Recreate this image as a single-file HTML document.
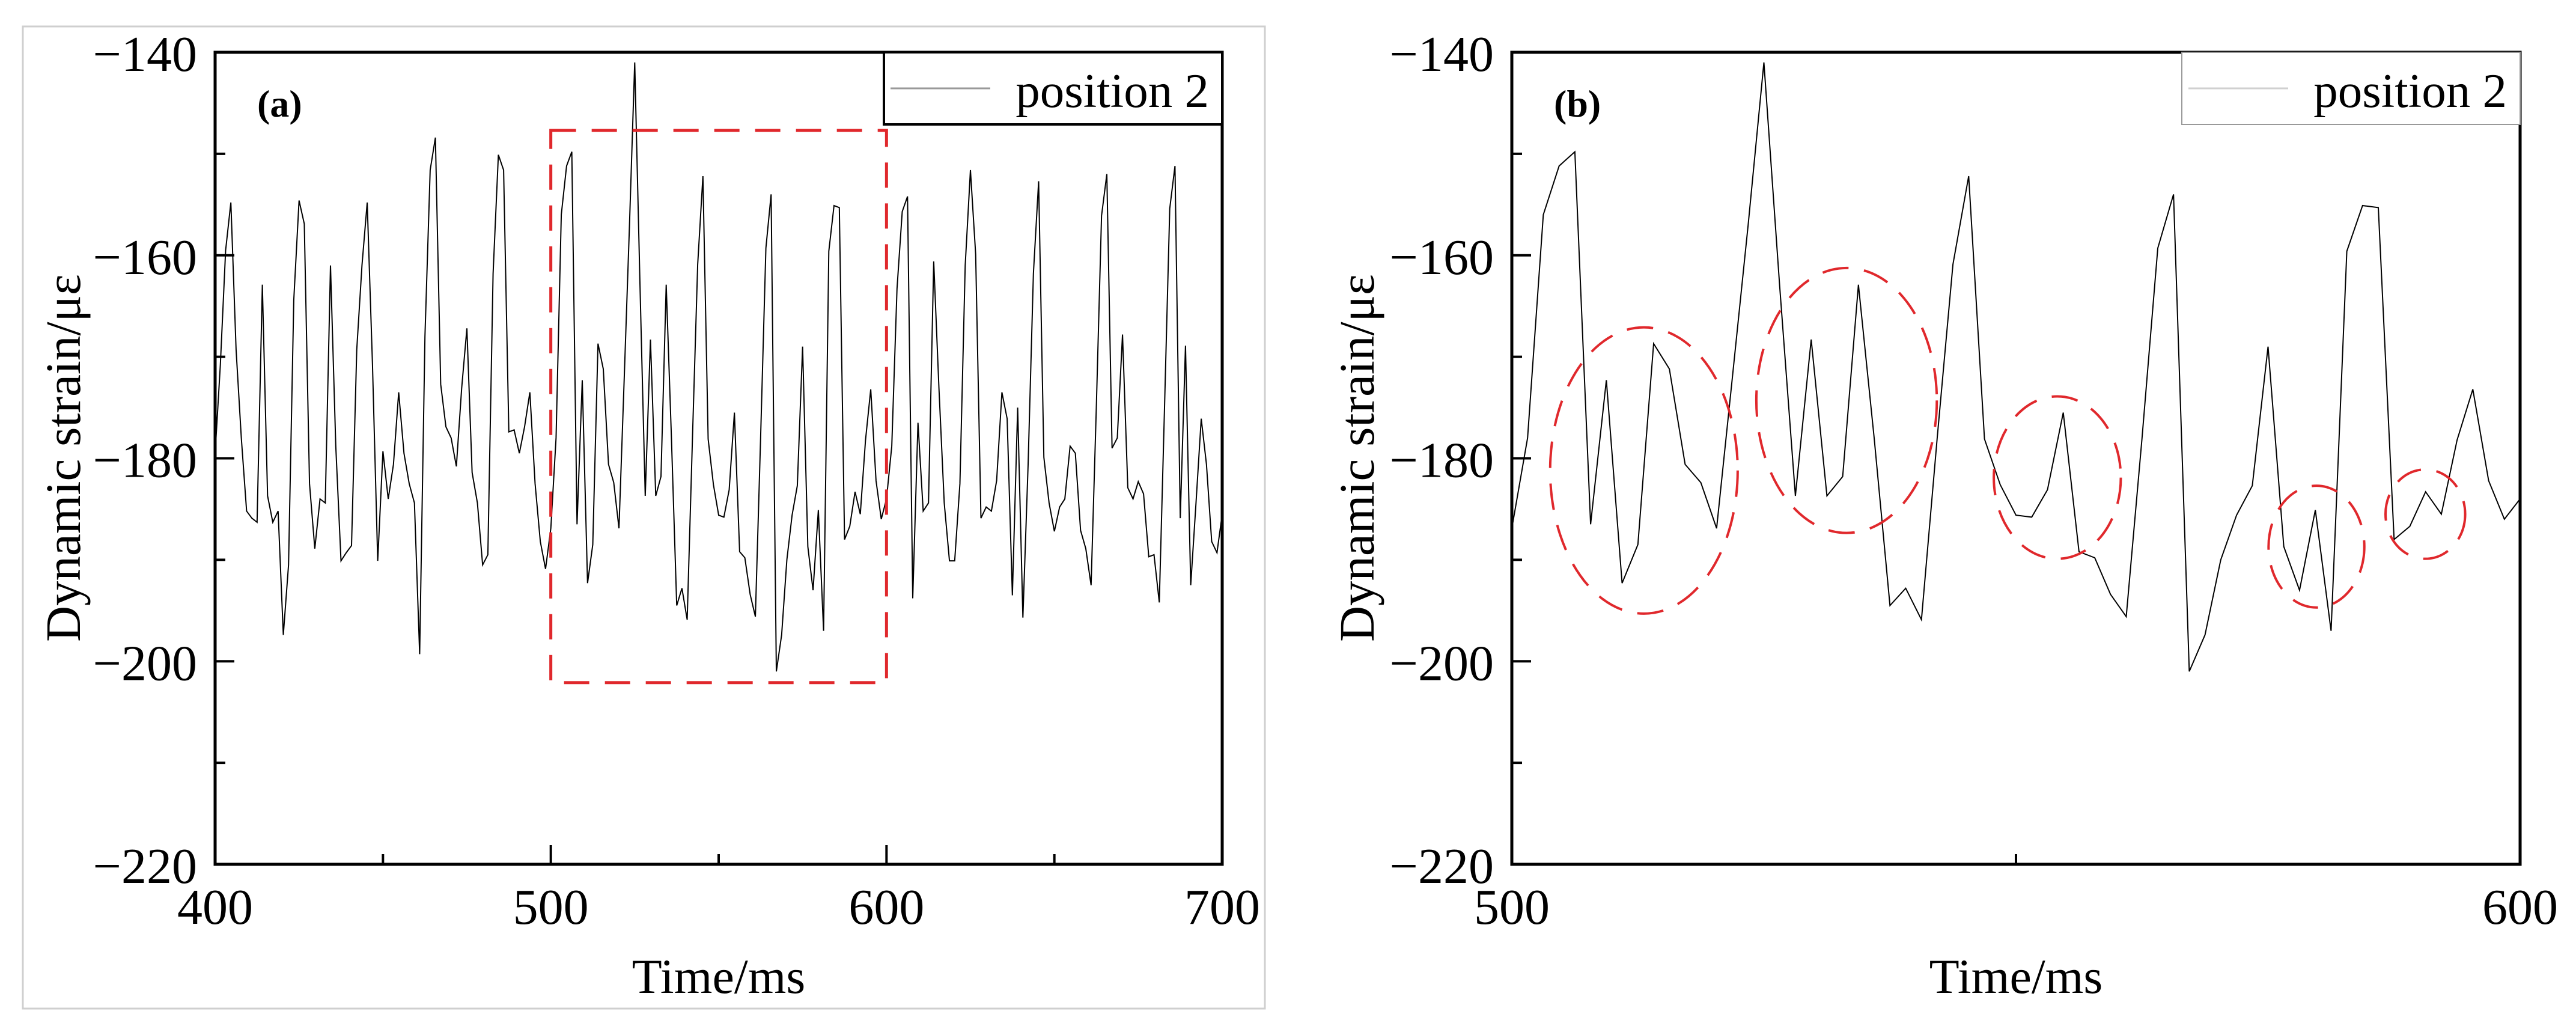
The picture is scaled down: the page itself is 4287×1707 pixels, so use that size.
<!DOCTYPE html>
<html><head><meta charset="utf-8"><style>
html,body{margin:0;padding:0;background:#fff;}
svg text{font-family:"Liberation Serif",serif;fill:#000;}
</style></head><body>
<svg id="fig" width="4287" height="1702" viewBox="0 0 4287 1702" xmlns="http://www.w3.org/2000/svg">
<rect x="0" y="0" width="4287" height="1702" fill="#fff"/>
<rect x="38" y="44" width="2067" height="1634" fill="none" stroke="#cfcfcf" stroke-width="3"/>
<g id="pa"></g>
<g id="pb"></g>
</svg>
<script>
// ---- data ----
const seg1 = [-179.5,-170.8,-159.5,-154.8,-169.3,-178.0,-185.2,-185.9,-186.3,-162.9,-183.7,-186.3,-185.2,-197.4,-190.5,-164.4,-154.6,-156.9,-182.5,-188.9,-184.0,-184.4,-161.0,-178.8,-190.1,-189.3,-188.6,-169.3,-161.0,-154.8,-170.8,-190.1,-179.3,-184.0,-180.6,-173.5,-179.5,-182.5,-184.4,-199.3,-168.0,-151.6,-148.4,-172.7,-176.9,-178.0,-180.8,-173.1,-167.2,-181.4,-184.4,-190.5,-189.5,-161.8,-150.1,-151.6,-177.4,-177.2,-179.5,-176.9,-173.5,-182.5,-188.2,-190.9];
const seg2 = [-186.9,-178.0,-156.0,-151.2,-149.8,-186.5,-172.3,-192.3,-188.5,-168.7,-171.2,-180.6,-182.4,-186.9,-172.0,-157.0,-141.0,-163.0,-183.7,-168.3,-183.7,-181.8,-162.9,-178.0,-194.5,-192.8,-195.9,-178.0,-160.9,-152.2,-178.1,-182.6,-185.6,-185.8,-183.1,-175.5,-189.2,-189.8,-193.4,-195.6,-178.0,-159.3,-154.0,-201.0,-197.4,-190.0,-185.6,-182.7,-169.0,-188.7,-193.0,-185.1,-197.0,-159.6,-155.1,-155.3,-188.0,-186.7,-183.3,-185.5,-178.2,-173.2,-182.2,-186.0,-184.0];
const seg3 = [-178.8,-163.3,-155.7,-154.2,-193.8,-176.5,-185.2,-184.4,-160.6,-173.1,-184.4,-190.1,-190.1,-182.5,-161.0,-151.6,-159.9,-185.9,-184.8,-185.2,-182.2,-173.5,-176.1,-193.5,-175.0,-195.7,-180.6,-161.8,-152.7,-179.9,-184.4,-187.2,-184.8,-184.0,-178.8,-179.5,-187.1,-188.9,-192.5,-175.0,-156.1,-152.0,-179.0,-178.0,-167.8,-182.9,-184.0,-182.3,-183.5,-189.7,-189.5,-194.2,-175.0,-155.4,-151.2,-185.9,-168.9,-192.5,-184.4,-176.1,-180.6,-188.2,-189.3,-185.5];
const strain = seg1.concat(seg2, seg3);
const t0 = 400, dt = 1.5625;
const yTicks = [-140,-160,-180,-200,-220];
const yMinor = [-150,-170,-190,-210];
const xTicksA = [400,500,600,700];
const xMinorA = [450,550,650];
const xTicksB = [500,600];
const xMinorB = [550];
const boxA = [500,600,-147.7,-202.1];
const ellipseCx = [513.1,533.2,554.1,579.8,590.6];
const ellipseCy = [-181.2,-174.3,-181.9,-188.7,-185.5];
const ellipseRx = [9.3,8.95,6.3,4.75,3.95];
const ellipseRy = [14.1,13.05,8.0,6.0,4.4];

const NS='http://www.w3.org/2000/svg';
function mk(parent, tag, attrs, txt){
  const e=document.createElementNS(NS,tag);
  for(const k in attrs) e.setAttribute(k,attrs[k]);
  if(txt!==undefined) e.textContent=txt;
  parent.appendChild(e); return e;
}
function panel(g, P){
  const sx=v=>P.L+(v-P.x0)/(P.x1-P.x0)*(P.R-P.L);
  const sy=v=>P.T+(P.y0-v)/(P.y0-P.y1)*(P.B-P.T);
  let d='';
  strain.forEach((v,i)=>{const t=t0+i*dt; if(t<P.x0-1e-6||t>P.x1+1e-6) return; d+=(d?'L':'M')+sx(t).toFixed(1)+' '+sy(v).toFixed(1);});
  const line=mk(g,'path',{d:d,fill:'none',stroke:'#000','stroke-width':P.lw,'stroke-linejoin':'miter'});
  
  
  yTicks.forEach(v=>{
    const tk=mk(g,'line',{x1:P.L,x2:P.L+32,y1:sy(v),y2:sy(v),stroke:'#000','stroke-width':4});
     
    const lb=mk(g,'text',{x:P.L-30,y:sy(v)+31,'font-size':84,'text-anchor':'end'},'\u2212'+Math.abs(v));
     
  });
  yMinor.forEach(v=>{
    const tk=mk(g,'line',{x1:P.L,x2:P.L+17,y1:sy(v),y2:sy(v),stroke:'#000','stroke-width':4});
     
  });
  P.xt.forEach(v=>{
    const tk=mk(g,'line',{x1:sx(v),x2:sx(v),y1:P.B,y2:P.B-32,stroke:'#000','stroke-width':4});
     
    const lb=mk(g,'text',{x:sx(v),y:P.B+99,'font-size':84,'text-anchor':'middle'},String(v));
     
  });
  P.xm.forEach(v=>{
    const tk=mk(g,'line',{x1:sx(v),x2:sx(v),y1:P.B,y2:P.B-17,stroke:'#000','stroke-width':4});
     
  });
  const fr=mk(g,'rect',{x:P.L,y:P.T,width:P.R-P.L,height:P.B-P.T,fill:'none',stroke:'#000','stroke-width':5});
   
  const xt=mk(g,'text',{x:(P.L+P.R)/2,y:1652,'font-size':82,'text-anchor':'middle'},'Time/ms');
   
  const yt=mk(g,'text',{x:0,y:0,'font-size':83,'text-anchor':'middle',transform:'translate('+P.yx+',762) rotate(-90)'},'Dynamic strain/\u03bc\u03b5');
   
  const pl=mk(g,'text',{x:P.L+70,y:194,'font-size':64,'font-weight':'bold'},P.label);
   
  const lg=mk(g,'g',{});
   
  const lx=P.R-563;
  const lbx=mk(lg,'rect',{x:lx,y:P.T,width:563,height:120,fill:'#fff',stroke:P.lgStroke,'stroke-width':P.lgW});
   
  const ls=mk(lg,'line',{x1:lx+11,x2:lx+177,y1:P.T+60,y2:P.T+60,stroke:P.lgLine,'stroke-width':3});
   
  const lt=mk(lg,'text',{x:P.R-22,y:P.T+91,'font-size':81,'text-anchor':'end'},'position 2');
   
  return {sx,sy};
}
const A=panel(document.getElementById('pa'),{L:358,R:2034,T:87,B:1438,x0:400,x1:700,y0:-140,y1:-220,xt:xTicksA,xm:xMinorA,yx:133,label:'(a)',lw:2,lgStroke:'#000',lgW:4,lgLine:'#999'});
const ra=mk(document.getElementById('pa'),'rect',{x:A.sx(boxA[0]),y:A.sy(boxA[2]),width:A.sx(boxA[1])-A.sx(boxA[0]),height:A.sy(boxA[3])-A.sy(boxA[2]),fill:'none',stroke:'#e0282c','stroke-width':5,'stroke-dasharray':'42 26'});


const B=panel(document.getElementById('pb'),{L:2516,R:4194,T:87,B:1438,x0:500,x1:600,y0:-140,y1:-220,xt:xTicksB,xm:xMinorB,yx:2286,label:'(b)',lw:2,lgStroke:'#999',lgW:2,lgLine:'#d0d0d0'});
ellipseCx.forEach((c,i)=>{
  const cx=B.sx(c), cy=B.sy(ellipseCy[i]);
  const rx=B.sx(c+ellipseRx[i])-cx, ry=B.sy(ellipseCy[i]-ellipseRy[i])-cy;
  const e=mk(document.getElementById('pb'),'ellipse',{cx:cx,cy:cy,rx:rx,ry:ry,fill:'none',stroke:'#e0282c','stroke-width':4,'stroke-dasharray':'44 26'});
  
  
});
</script>
</body></html>
